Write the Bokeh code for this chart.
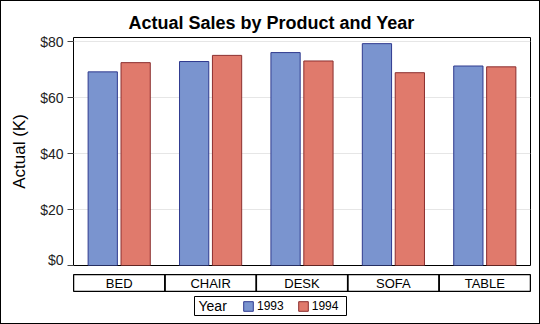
from bokeh.plotting import figure
from bokeh.models import (FactorRange, Range1d, FixedTicker, NumeralTickFormatter,
                          ColumnDataSource, Legend, LegendItem, Label, BoxAnnotation)
from bokeh.transform import dodge
from bokeh.layouts import column
from bokeh.core.properties import value
from bokeh.embed import file_html
from bokeh.resources import INLINE

products = ["BED", "CHAIR", "DESK", "SOFA", "TABLE"]
years = ["1993", "1994"]
sales_1993 = [69.3, 73.0, 76.2, 79.4, 71.4]
sales_1994 = [72.6, 75.2, 73.2, 69.0, 71.1]
y_ticks = [0, 20, 40, 60, 80]

FONT = "Liberation Sans"
BLUE_FILL, BLUE_LINE = "#7A94CF", "#2F3A8F"
RED_FILL, RED_LINE = "#E07A6C", "#8B2E2E"

src = ColumnDataSource(dict(product=products, y1993=sales_1993, y1994=sales_1994))

xr = FactorRange(factors=products, range_padding=0)

# ---- main chart ----
p = figure(width=538, height=266, x_range=xr, y_range=Range1d(0, 81.6),
           output_backend="svg", toolbar_location=None,
           min_border_left=72, min_border_right=9, min_border_top=36, min_border_bottom=2)
p.title.text = "Actual Sales by Product and Year"
p.title.text_font = FONT
p.title.text_font_size = "18px"
p.title.text_font_style = "bold"
p.title.text_color = "black"
p.title.align = "left"
p.title.offset = 55
p.title.standoff = 10

p.vbar(x=dodge("product", -0.18, range=xr), top="y1993", width=0.32, source=src,
       fill_color=BLUE_FILL, line_color=BLUE_LINE, line_width=1)
p.vbar(x=dodge("product", 0.18, range=xr), top="y1994", width=0.32, source=src,
       fill_color=RED_FILL, line_color=RED_LINE, line_width=1)

p.xaxis.visible = False
p.xgrid.grid_line_color = None
p.ygrid.grid_line_color = "#E6E6E6"
p.ygrid.ticker = FixedTicker(ticks=y_ticks)
p.yaxis.ticker = FixedTicker(ticks=y_ticks)
p.yaxis.formatter = NumeralTickFormatter(format="$0")
p.yaxis.major_tick_out = 6
p.yaxis.major_tick_in = 0
p.yaxis.minor_tick_line_color = None
p.yaxis.axis_line_color = None
p.yaxis.major_tick_line_color = "#444444"
p.yaxis.major_label_text_font = FONT
p.yaxis.major_label_text_font_size = "14px"
p.yaxis.major_label_text_color = "#222222"
p.yaxis.major_label_standoff = 4
p.yaxis.axis_label = "Actual (K)"
p.yaxis.axis_label_text_font = FONT
p.yaxis.axis_label_text_font_size = "17px"
p.yaxis.axis_label_text_font_style = "normal"
p.yaxis.axis_label_text_color = "black"
p.yaxis.axis_label_standoff = 8
p.outline_line_color = "black"
p.outline_line_width = 1

# ---- category table ----
t = figure(width=538, height=27, x_range=xr, y_range=Range1d(0, 1),
           output_backend="svg", toolbar_location=None,
           min_border_left=72, min_border_right=9, min_border_top=7, min_border_bottom=3)
t.axis.visible = False
t.grid.visible = False
t.outline_line_color = "black"
t.rect(x="product", y=0.5, width=1, height=1, source=src,
       fill_color=None, line_color="black", line_width=1.5)
t.text(x="product", y=0.5, text="product", source=src, text_align="center",
       text_baseline="middle", text_font=value(FONT), text_font_size="13px",
       text_color="black")

# ---- legend (pixel-space panel under the table) ----
lg = figure(width=538, height=29, x_range=Range1d(0, 457), y_range=Range1d(0, 29),
            output_backend="svg", toolbar_location=None,
            min_border_left=72, min_border_right=9, min_border_top=0, min_border_bottom=0)
lg.axis.visible = False
lg.grid.visible = False
lg.outline_line_color = None
lg.add_layout(BoxAnnotation(left=121, right=273, bottom=8, top=27,
                            fill_color="white", fill_alpha=1,
                            line_color="black", line_width=1, line_alpha=1))
lg.add_layout(Label(x=125, y=17.5, text="Year", text_font=FONT, text_font_size="14px",
                    text_baseline="middle", text_align="left", text_color="black"))
r1 = lg.quad(left=[-50], right=[-40], bottom=[-50], top=[-40],
             fill_color=BLUE_FILL, line_color=BLUE_LINE)
r2 = lg.quad(left=[-50], right=[-40], bottom=[-50], top=[-40],
             fill_color=RED_FILL, line_color=RED_LINE)
legend = Legend(items=[LegendItem(label=years[0], renderers=[r1]),
                       LegendItem(label=years[1], renderers=[r2])],
                orientation="horizontal", location=(169, 10), margin=0, padding=0,
                label_text_font=FONT, label_text_font_size="12px",
                label_text_color="black",
                glyph_width=12, glyph_height=12, label_standoff=3, spacing=13,
                label_height=12,
                border_line_color=None, background_fill_alpha=0)
lg.add_layout(legend)

layout = column(p, t, lg, spacing=0, styles={"border": "1px solid black"})
open("out.html", "w").write(file_html(layout, INLINE))
